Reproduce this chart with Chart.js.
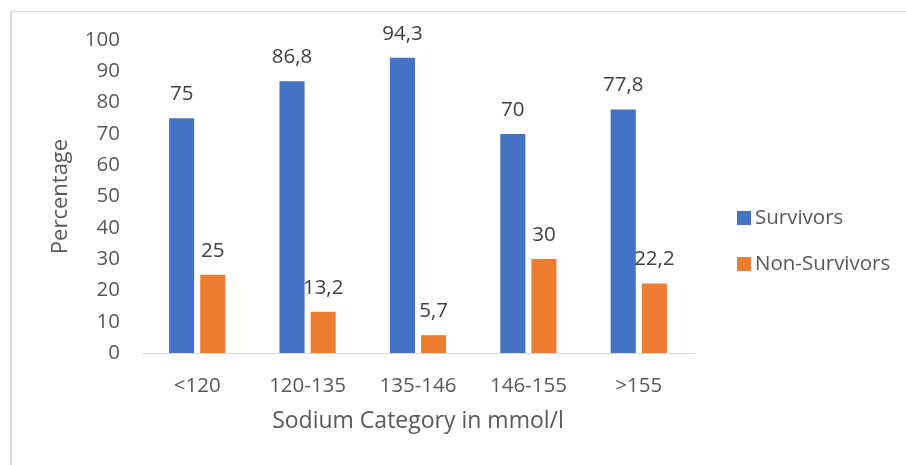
<!DOCTYPE html>
<html>
<head>
<meta charset="utf-8">
<script src="https://cdn.jsdelivr.net/npm/chart.js@4"></script>
<style>
  html, body { margin: 0; padding: 0; background: #fff; }
  #wrap { position: relative; width: 906px; height: 465px; overflow: hidden; }
  #frame { position: absolute; left: 10px; top: 11px; width: 900px; height: 460px;
           border-top: 1px solid #d9d9d9; border-left: 2px solid #d9d9d9; pointer-events: none; }
  canvas { position: absolute; left: 0; top: 0; }
</style>
</head>
<body>
<div id="wrap">
  <canvas id="c" width="906" height="465"></canvas>
  <div id="frame"></div>
</div>
<script>
// Sodium categories (mmol/l) and outcome percentages
const categories = ['<120', '120-135', '135-146', '146-155', '>155'];
const survivors = [75, 86.8, 94.3, 70, 77.8];
const nonSurvivors = [25, 13.2, 5.7, 30, 22.2];
const yTicks = [0, 10, 20, 30, 40, 50, 60, 70, 80, 90, 100];

const FONT = '"Open Sans", "Liberation Sans", sans-serif';
const TEXT = '#595959';

const fmt = v => String(v).replace('.', ',');

// Value labels above each bar, decimal comma
const valueLabels = {
  id: 'valueLabels',
  afterDatasetsDraw(chart) {
    const ctx = chart.ctx;
    ctx.save();
    ctx.font = '20.5px ' + FONT;
    ctx.fillStyle = '#404040';
    ctx.textAlign = 'center';
    ctx.textBaseline = 'middle';
    chart.data.datasets.forEach((ds, i) => {
      chart.getDatasetMeta(i).data.forEach((bar, j) => {
        ctx.fillText(fmt(ds.data[j]), bar.x, bar.y - 24);
      });
    });
    ctx.restore();
  }
};

// Legend block to the right of the plot
const sideLegend = {
  id: 'sideLegend',
  afterDraw(chart) {
    const ctx = chart.ctx;
    ctx.save();
    ctx.font = '20.5px ' + FONT;
    ctx.textBaseline = 'middle';
    ctx.textAlign = 'left';
    const x = 737, y0 = 218, step = 46;
    chart.data.datasets.forEach((ds, i) => {
      const y = y0 + i * step;
      ctx.fillStyle = ds.backgroundColor;
      ctx.fillRect(x, y - 7, 14, 14);
      ctx.fillStyle = TEXT;
      ctx.fillText(ds.label, x + 18, y);
    });
    ctx.restore();
  }
};

new Chart(document.getElementById('c'), {
  type: 'bar',
  data: {
    labels: categories,
    datasets: [
      { label: 'Survivors', data: survivors, backgroundColor: '#4472C4',
        categoryPercentage: 0.564, barPercentage: 0.806 },
      { label: 'Non-Survivors', data: nonSurvivors, backgroundColor: '#ED7D31',
        categoryPercentage: 0.564, barPercentage: 0.806 }
    ]
  },
  options: {
    responsive: false,
    animation: false,
    events: [],
    layout: { padding: { left: 40, right: 212, top: 40, bottom: 30 } },
    plugins: { legend: { display: false }, tooltip: { enabled: false } },
    scales: {
      x: {
        grid: { display: false, drawTicks: false },
        border: { display: true, color: '#d9d9d9', width: 1 },
        ticks: { color: TEXT, font: { family: FONT, size: 20.5 }, padding: 21 },
        title: { display: true, text: 'Sodium Category in mmol/l', color: TEXT,
                 font: { family: FONT, size: 23 }, padding: { top: 0, bottom: 0 } },
        afterFit(scale) { scale.height = 465 - 353 - 30; }
      },
      y: {
        min: 0, max: 100,
        afterBuildTicks(scale) { scale.ticks = yTicks.map(v => ({ value: v })); },
        grid: { display: false, drawTicks: false },
        border: { display: false },
        ticks: { color: TEXT, font: { family: FONT, size: 20.5 }, padding: 22 },
        title: { display: true, text: 'Percentage', color: TEXT,
                 font: { family: FONT, size: 22 }, padding: { top: 8, bottom: 0 } },
        afterFit(scale) { scale.width = 142 - 40; }
      }
    }
  },
  plugins: [valueLabels, sideLegend]
});
</script>
</body>
</html>
